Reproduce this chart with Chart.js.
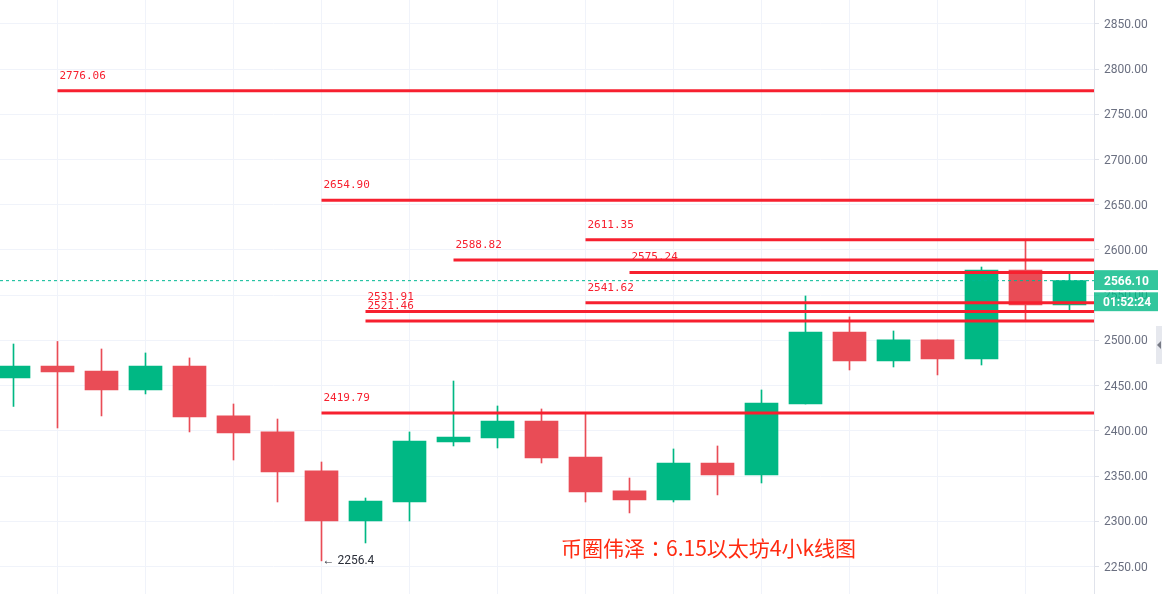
<!DOCTYPE html>
<html>
<head>
<meta charset="utf-8">
<style>
html, body { margin: 0; padding: 0; background: #fff; overflow: hidden; }
canvas { display: block; }
</style>
<script src="https://cdn.jsdelivr.net/npm/chart.js@4"></script>
</head>
<body>
<canvas id="graphiqueKline" width="1162" height="594"></canvas>
<script>
var candleIndexes = [1, 2, 3, 4, 5, 6, 7, 8, 9, 10, 11, 12, 13, 14, 15, 16, 17, 18, 19, 20, 21, 22, 23, 24, 25];
var opens  = [2458.6, 2471.8, 2466.3, 2445.3, 2471.8, 2416.6, 2398.9, 2355.8, 2300.5, 2321.5, 2387.8, 2392.2, 2411.0, 2371.2, 2333.7, 2323.7, 2364.6, 2351.3, 2429.8, 2509.4, 2477.3, 2500.6, 2479.6, 2577.9, 2539.2];
var closes = [2471.8, 2465.2, 2445.3, 2471.8, 2415.5, 2397.8, 2354.7, 2300.5, 2322.6, 2388.9, 2393.3, 2411.0, 2370.1, 2332.6, 2323.7, 2364.6, 2351.3, 2430.9, 2509.4, 2477.3, 2500.6, 2479.6, 2577.9, 2539.2, 2566.1];
var highs  = [2496.1, 2498.9, 2490.6, 2486.2, 2480.7, 2429.8, 2413.2, 2365.7, 2325.9, 2398.9, 2455.2, 2427.6, 2424.3, 2419.9, 2348.0, 2380.1, 2383.4, 2445.3, 2549.2, 2526.0, 2510.5, 2500.6, 2581.2, 2611.0, 2574.6];
var lows   = [2427.1, 2403.3, 2416.6, 2440.9, 2398.9, 2367.9, 2321.5, 2256.4, 2276.2, 2300.5, 2383.4, 2381.2, 2364.6, 2321.5, 2309.4, 2321.5, 2329.3, 2342.5, 2429.8, 2467.4, 2470.7, 2461.9, 2472.9, 2522.7, 2532.6];

var levelValues = [2776.06, 2654.90, 2611.35, 2588.82, 2575.24, 2541.62, 2531.91, 2521.46, 2419.79];
var levelStarts = [2, 8, 14, 11, 15, 14, 9, 9, 8];

var lastPrice = 2566.10;
var countdown = '01:52:24';
var lowLabel = '← 2256.4';
var lowCandle = 7;
var noteText = '币圈伟泽：6.15以太坊4小k线图';

var xMin = 0.6932;
var xMax = 25.557;
var up = '#00b884';
var down = '#e94c56';
var lineRed = '#f7202f';
var teal = 'rgba(0,184,132,0.8)';

var bodies = opens.map(function (o, i) { return { x: candleIndexes[i], y: [o, closes[i]] }; });
var wicks = highs.map(function (h, i) { return { x: candleIndexes[i], y: [lows[i], h] }; });
var candleColors = opens.map(function (o, i) { return closes[i] >= o ? up : down; });

var datasets = [
    { type: 'bar', data: wicks, backgroundColor: candleColors, barThickness: 1, grouped: false, order: 3 },
    { type: 'bar', data: bodies, backgroundColor: candleColors, barThickness: 33, grouped: false, order: 2 },
    {
        type: 'line',
        data: [{ x: xMin, y: lastPrice }, { x: xMax, y: lastPrice }],
        borderColor: '#00b894', borderWidth: 1, borderDash: [3, 3], pointRadius: 0, order: 1
    }
];
levelValues.forEach(function (v, i) {
    datasets.push({
        type: 'line',
        data: [{ x: levelStarts[i], y: v }, { x: xMax, y: v }],
        borderColor: lineRed, borderWidth: 3, pointRadius: 0, order: 0
    });
});

// textes par-dessus le graphique
var overlay = {
    id: 'overlay',
    afterDraw: function (chart) {
        var c = chart.ctx, xs = chart.scales.x, ys = chart.scales.y;
        c.save();
        c.textBaseline = 'alphabetic';
        c.textAlign = 'left';

        c.font = '11px "DejaVu Sans Mono"';
        c.fillStyle = lineRed;
        levelValues.forEach(function (v, i) {
            c.fillText(v.toFixed(2), xs.getPixelForValue(levelStarts[i]) + 2, ys.getPixelForValue(v) - 12);
        });

        c.font = '12px Roboto';
        c.fillStyle = '#2a2e39';
        c.fillText(lowLabel, xs.getPixelForValue(candleIndexes[lowCandle]) + 1, ys.getPixelForValue(lows[lowCandle]) + 3);

        c.font = '21px "Noto Sans CJK TC"';
        c.fillStyle = '#ff2a10';
        c.fillText(noteText, 561, 556);

        // étiquettes du dernier prix
        var py = ys.getPixelForValue(lastPrice);
        c.fillStyle = teal;
        c.fillRect(1094, py - 10.5, 64, 20);
        c.fillRect(1094, py + 11.5, 64, 19);
        c.fillStyle = '#ffffff';
        c.fillRect(1094, py + 9.5, 64, 2);
        c.font = 'bold 12px Roboto';
        c.fillText(lastPrice.toFixed(2), 1104, py + 4);
        c.fillText(countdown, 1103, py + 25);

        c.fillStyle = '#e6e8ee';
        c.fillRect(1156, 326, 6, 38);
        c.fillStyle = '#787b86';
        c.beginPath();
        c.moveTo(1157, 345);
        c.lineTo(1161, 341);
        c.lineTo(1161, 349);
        c.closePath();
        c.fill();
        c.restore();
    }
};

function noScalePadding(scale) {
    scale.paddingTop = 0;
    scale.paddingBottom = 0;
    scale.paddingLeft = 0;
    scale.paddingRight = 0;
}

var canvasKline = document.getElementById('graphiqueKline');
var ctxKline = canvasKline.getContext('2d');
var graphiqueKline = new Chart(ctxKline, {
    data: { datasets: datasets },
    plugins: [overlay],
    options: {
        responsive: false,
        animation: false,
        layout: { padding: 0 },
        plugins: { legend: { display: false }, tooltip: { enabled: false } },
        scales: {
            x: {
                type: 'linear',
                offset: false,
                min: xMin,
                max: xMax,
                afterFit: function (scale) {
                    noScalePadding(scale);
                    scale.height = 0;
                },
                grid: { color: '#f0f3fa', drawTicks: false, offset: false },
                border: { display: false },
                ticks: { display: false, stepSize: 2, includeBounds: false, autoSkip: false }
            },
            y: {
                position: 'right',
                min: 2219.8,
                max: 2876.3,
                afterFit: function (scale) {
                    noScalePadding(scale);
                    scale.width = 68;
                },
                grid: { color: '#f0f3fa', tickColor: '#e0e3eb', tickLength: 5 },
                border: { color: '#e0e3eb' },
                ticks: {
                    stepSize: 50,
                    includeBounds: false,
                    padding: 5,
                    labelOffset: 1,
                    color: '#6a6f80',
                    font: { family: 'Roboto', size: 12 },
                    callback: function (v) { return v.toFixed(2); }
                }
            }
        }
    }
});
</script>
</body>
</html>
